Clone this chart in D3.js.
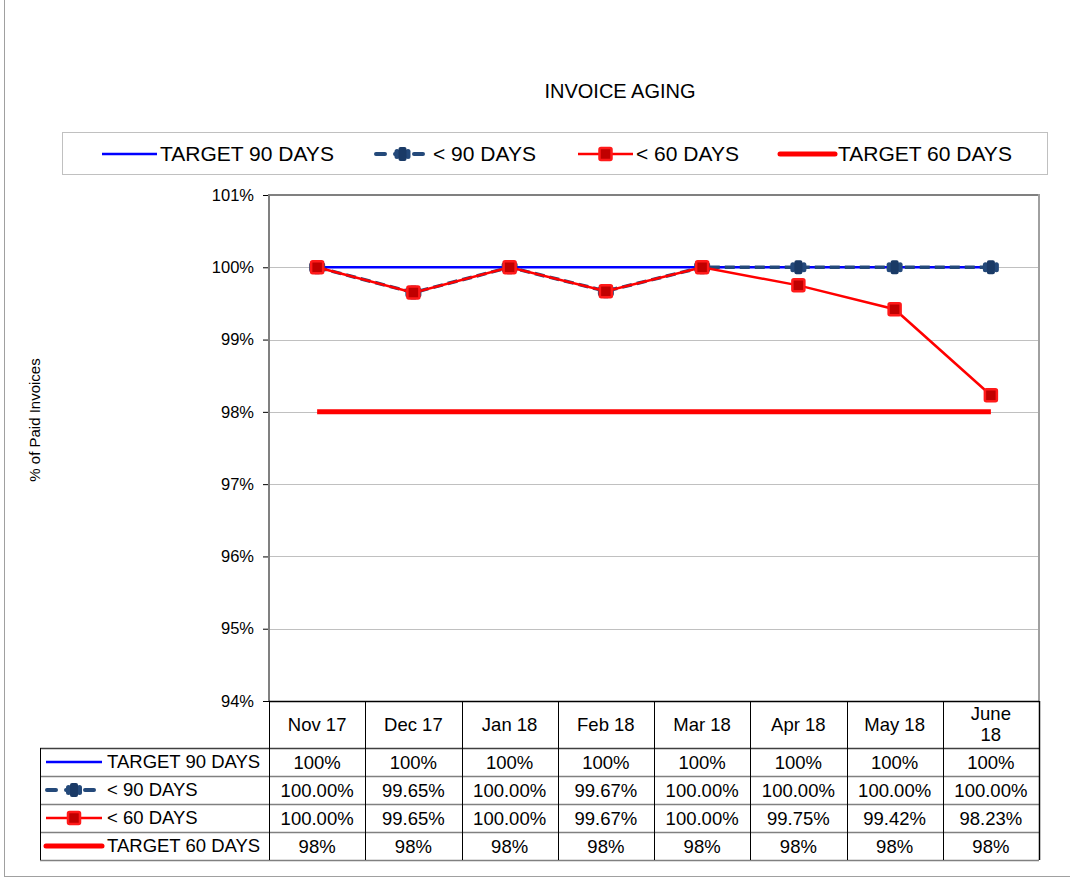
<!DOCTYPE html>
<html>
<head>
<meta charset="utf-8">
<script src="https://cdn.jsdelivr.net/npm/d3@7"></script>
<style>
body{margin:0;background:#fff;}
text{font-family:"Liberation Sans",Arial,sans-serif;fill:#000;}
</style>
</head>
<body>
<svg id="chart" width="1070" height="878"></svg>
<script>
// data
var months = ["Nov 17","Dec 17","Jan 18","Feb 18","Mar 18","Apr 18","May 18","June 18"];
var target90 = [100,100,100,100,100,100,100,100];
var under90 = [100.00,99.65,100.00,99.67,100.00,100.00,100.00,100.00];
var under60 = [100.00,99.65,100.00,99.67,100.00,99.75,99.42,98.23];
var target60 = [98,98,98,98,98,98,98,98];
var yTicks = [94,95,96,97,98,99,100,101];
var seriesNames = ["TARGET 90 DAYS","< 90 DAYS","< 60 DAYS","TARGET 60 DAYS"];

var svg = d3.select("#chart");
var plot = {left:269, right:1039, top:195, bottom:701};

var x = d3.scaleBand().domain(months).range([plot.left, plot.right]);
var y = d3.scaleLinear().domain([94,101]).range([plot.bottom, plot.top]);
var cx = function(d,i){ return x(months[i]) + x.bandwidth()/2; };

// outer frame
svg.append("rect").attr("x",4.5).attr("y",-5).attr("width",1080).attr("height",881.5)
  .attr("fill","none").attr("stroke","#a0a0a0").attr("stroke-width",1);

// title
svg.append("text").attr("x",620).attr("y",98).attr("text-anchor","middle")
  .style("font-size","20px").text("INVOICE AGING");

// gridlines
svg.append("g").selectAll("line").data(yTicks.slice(1,7)).enter().append("line")
  .attr("x1",plot.left).attr("x2",plot.right)
  .attr("y1",function(d){return Math.round(y(d))+0.5;}).attr("y2",function(d){return Math.round(y(d))+0.5;})
  .attr("stroke","#c0c0c0").attr("stroke-width",1);

// y axis
var yAxis = d3.axisLeft(y).tickValues(yTicks).tickFormat(function(d){return d+"%";}).tickSize(6).tickPadding(9);
var ga = svg.append("g").attr("transform","translate("+plot.left+",0)").call(yAxis);
ga.select(".domain").remove();
ga.selectAll("line").attr("stroke","#000");
ga.selectAll("text").style("font-size","16.5px").style("font-family","Liberation Sans, Arial, sans-serif");

// plot border
svg.append("line").attr("x1",plot.left).attr("x2",plot.right).attr("y1",plot.top).attr("y2",plot.top)
  .attr("stroke","#808080").attr("stroke-width",2);
svg.append("line").attr("x1",plot.right).attr("x2",plot.right).attr("y1",plot.top-1).attr("y2",plot.bottom)
  .attr("stroke","#a0a0a0").attr("stroke-width",2);
svg.append("line").attr("x1",plot.left).attr("x2",plot.left).attr("y1",plot.top-1).attr("y2",plot.bottom)
  .attr("stroke","#808080").attr("stroke-width",2);

// y label
svg.append("text").attr("transform","translate(40,420) rotate(-90)").attr("text-anchor","middle")
  .style("font-size","15px").text("% of Paid Invoices");

var line = d3.line().x(cx).y(function(d){return y(d);});

// target 60
svg.append("path").datum(target60).attr("d",line).attr("fill","none")
  .attr("stroke","#ff0000").attr("stroke-width",5);
// target 90
svg.append("path").datum(target90).attr("d",line).attr("fill","none")
  .attr("stroke","#0000ff").attr("stroke-width",2.5);
// < 90
svg.append("path").datum(under90).attr("d",line).attr("fill","none")
  .attr("stroke","#24497a").attr("stroke-width",3.5).attr("stroke-dasharray","10,5");

function mark90(g, px, py){
  g.append("rect").attr("x",px-8).attr("y",py-5).attr("width",5).attr("height",10).attr("rx",2.5)
    .attr("fill","#24497a");
  g.append("rect").attr("x",px+3).attr("y",py-5).attr("width",5).attr("height",10).attr("rx",2.5)
    .attr("fill","#24497a");
  g.append("rect").attr("x",px-4).attr("y",py-7).attr("width",8).attr("height",14).attr("rx",2)
    .attr("fill","#1a3a66");
}
function mark60(g, px, py){
  g.append("rect").attr("x",px-6).attr("y",py-6).attr("width",12).attr("height",12).attr("rx",1.5)
    .attr("fill","#c00000").attr("stroke","#ff1a1a").attr("stroke-width",2.5);
}
var m90 = svg.append("g");
under90.forEach(function(d,i){ mark90(m90, cx(d,i), y(d)); });

// < 60
svg.append("path").datum(under60).attr("d",line).attr("fill","none")
  .attr("stroke","#ff0000").attr("stroke-width",2.5);
var m60 = svg.append("g");
under60.forEach(function(d,i){ mark60(m60, cx(d,i), y(d)); });

// legend sample drawer
function sample(g, k, x0, x1, yy){
  if(k===0){
    g.append("line").attr("x1",x0).attr("x2",x1).attr("y1",yy).attr("y2",yy).attr("stroke","#0000ff").attr("stroke-width",2.5);
  } else if(k===1){
    g.append("line").attr("x1",x0).attr("x2",x1).attr("y1",yy).attr("y2",yy).attr("stroke","#24497a").attr("stroke-width",4).attr("stroke-linecap","round").attr("stroke-dasharray","9,10").attr("stroke-dashoffset",-1);
    mark90(g,(x0+x1)/2,yy);
  } else if(k===2){
    g.append("line").attr("x1",x0).attr("x2",x1).attr("y1",yy).attr("y2",yy).attr("stroke","#ff0000").attr("stroke-width",2.5);
    mark60(g,(x0+x1)/2,yy);
  } else {
    g.append("line").attr("x1",x0).attr("x2",x1).attr("y1",yy).attr("y2",yy).attr("stroke","#ff0000").attr("stroke-width",5).attr("stroke-linecap","round");
  }
}

// legend box
svg.append("rect").attr("x",62.5).attr("y",132.5).attr("width",985).attr("height",42)
  .attr("fill","none").attr("stroke","#808080").attr("stroke-dasharray","1,1");
var legX = [102,375,578,780];
var lg = svg.append("g");
seriesNames.forEach(function(n,k){
  sample(lg,k,legX[k],legX[k]+55,154);
  lg.append("text").attr("x",legX[k]+58).attr("y",161).style("font-size","21px").text(n);
});

// data table
var rows = [target90, under90, under60, target60];
var fmt = [function(d){return d+"%";}, function(d){return d.toFixed(2)+"%";}, function(d){return d.toFixed(2)+"%";}, function(d){return d+"%";}];
var rowTop = 748, rowH = 28, tLeft = 40;
var tg = svg.append("g");

// header labels
months.forEach(function(m,i){
  var parts = m==="June 18" ? ["June","18"] : [m];
  var t = tg.append("text").attr("x",cx(0,i)).attr("text-anchor","middle").style("font-size","18.5px");
  if(parts.length===1){ t.attr("y",731).text(m); }
  else {
    t.append("tspan").attr("x",cx(0,i)).attr("y",720).text(parts[0]);
    t.append("tspan").attr("x",cx(0,i)).attr("y",741).text(parts[1]);
  }
});

// rows
rows.forEach(function(r,k){
  var yy = rowTop + k*rowH;
  sample(tg,k,46,102,yy+rowH/2);
  tg.append("text").attr("x",107).attr("y",yy+20).style("font-size","18.5px").text(seriesNames[k]);
  r.forEach(function(v,i){
    tg.append("text").attr("x",cx(0,i)).attr("y",yy+21).attr("text-anchor","middle").style("font-size","18.5px").text(fmt[k](v));
  });
});

// table grid
for(var k=0;k<=4;k++){
  var yy = rowTop + k*rowH + 0.5;
  tg.append("line").attr("x1",tLeft).attr("x2",plot.right).attr("y1",yy).attr("y2",yy)
    .attr("stroke",k===0?"#404040":"#808080").attr("stroke-width",1.5);
}
tg.append("line").attr("x1",plot.left).attr("x2",plot.right).attr("y1",plot.bottom+0.5).attr("y2",plot.bottom+0.5)
  .attr("stroke","#000").attr("stroke-width",1.5);
tg.append("line").attr("x1",tLeft+0.5).attr("x2",tLeft+0.5).attr("y1",rowTop).attr("y2",rowTop+4*rowH).attr("stroke","#000");
months.forEach(function(m,i){
  var xx = Math.round(x(m))+0.5;
  tg.append("line").attr("x1",xx).attr("x2",xx).attr("y1",plot.bottom).attr("y2",rowTop+4*rowH)
    .attr("stroke","#000").attr("stroke-width",1);
});
tg.append("line").attr("x1",plot.right+0.5).attr("x2",plot.right+0.5).attr("y1",plot.bottom).attr("y2",rowTop+4*rowH)
  .attr("stroke","#000").attr("stroke-width",1.5);
</script>
</body>
</html>
